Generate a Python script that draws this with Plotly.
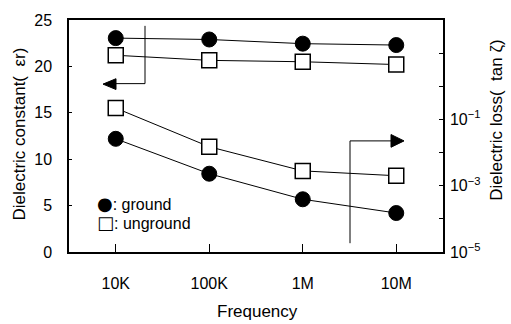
import plotly.graph_objects as go

freq = [1e4, 1e5, 1e6, 1e7]
freq_labels = ["10K", "100K", "1M", "10M"]
er_ground = [23.05, 22.9, 22.45, 22.3]
er_unground = [21.2, 20.65, 20.5, 20.2]
tan_ground = [0.026, 0.0023, 0.00039, 0.00015]
tan_unground = [0.22, 0.015, 0.0028, 0.002]
er_ticks = [0, 5, 10, 15, 20, 25]
tan_tickvals = [1e-5, 1e-3, 1e-1]
tan_ticktext = ["10<sup>−5</sup>", "10<sup>−3</sup>", "10<sup>−1</sup>"]
tan_minor = [1e-4, 1e-2, 1e0, 1e1]

FONT = "Liberation Sans, Arial, sans-serif"
W, H = 511, 324
L, R, T, B = 69, 68, 15, 72
pw, ph = W - L - R, H - T - B

def px(x):
    return (x - L) / pw

def py(y):
    return (H - B - y) / ph

line = dict(color="black", width=1)
circ = dict(symbol="circle", size=15, color="black", line=dict(color="black", width=1))
sq = dict(symbol="square", size=15, color="white", line=dict(color="black", width=1.5))

fig = go.Figure()
fig.add_trace(go.Scatter(x=freq, y=er_ground, mode="lines+markers", line=line, marker=circ, yaxis="y"))
fig.add_trace(go.Scatter(x=freq, y=er_unground, mode="lines+markers", line=line, marker=sq, yaxis="y"))
fig.add_trace(go.Scatter(x=freq, y=tan_ground, mode="lines+markers", line=line, marker=circ, yaxis="y2"))
fig.add_trace(go.Scatter(x=freq, y=tan_unground, mode="lines+markers", line=line, marker=sq, yaxis="y2"))

axcommon = dict(showgrid=False, zeroline=False, showline=True, linecolor="black", linewidth=1.5,
                ticks="inside", tickcolor="black", tickfont=dict(family=FONT, size=16, color="black"))

fig.update_layout(
    width=W, height=H, margin=dict(l=L, r=R, t=T, b=B, pad=0),
    paper_bgcolor="white", plot_bgcolor="white", showlegend=False,
    xaxis=dict(type="log", range=[3.5, 7.5], tickvals=freq, ticktext=freq_labels,
               mirror=True, ticklen=8, ticklabelstandoff=16, **axcommon),
    yaxis=dict(range=[0, 25], tickvals=er_ticks, ticklen=3, ticklabelstandoff=12, **axcommon),
    yaxis2=dict(type="log", range=[-5, 2], overlaying="y", side="right", tickvals=tan_tickvals,
                ticktext=tan_ticktext, ticklen=4, ticklabelstandoff=2,
                minor=dict(tickvals=tan_minor, ticks="inside", ticklen=4, tickcolor="black"),
                **axcommon),
)

tf = dict(family=FONT, size=17, color="black")
lf = dict(family=FONT, size=16, color="black")
fig.add_annotation(text="Dielectric constant(  εr)", xref="paper", yref="paper", x=px(20), y=py(132),
                   textangle=-90, showarrow=False, font=tf, xanchor="center", yanchor="middle")
fig.add_annotation(text="Dielectric loss(  tan ζ)", xref="paper", yref="paper", x=px(497), y=py(117),
                   textangle=-90, showarrow=False, font=tf, xanchor="center", yanchor="middle")
fig.add_annotation(text="Frequency", xref="paper", yref="paper", x=px(257), y=py(313),
                   showarrow=False, font=tf, xanchor="center", yanchor="middle")
fig.add_annotation(text="<span style='font-family:DejaVu Sans;font-size:18px'>●</span>: ground",
                   xref="paper", yref="paper", x=px(95), y=py(202),
                   showarrow=False, font=lf, xanchor="left", yanchor="middle")
fig.add_annotation(text="<span style='font-family:DejaVu Sans;font-size:18px'>□</span>: unground",
                   xref="paper", yref="paper", x=px(95), y=py(222),
                   showarrow=False, font=lf, xanchor="left", yanchor="middle")

# arrow indicators
sl = dict(color="black", width=1)
fig.add_shape(type="path", xref="paper", yref="paper",
              path=f"M {px(145)} {py(21)} L {px(145)} {py(80)} L {px(114)} {py(80)}", line=sl)
fig.add_shape(type="path", xref="paper", yref="paper",
              path=f"M {px(103)} {py(80.5)} L {px(116)} {py(75)} L {px(116)} {py(86)} Z",
              line=dict(color="black", width=1), fillcolor="black")
fig.add_shape(type="path", xref="paper", yref="paper",
              path=f"M {px(350)} {py(243)} L {px(350)} {py(138.5)} L {px(393)} {py(138.5)}", line=sl)
fig.add_shape(type="path", xref="paper", yref="paper",
              path=f"M {px(404)} {py(138.5)} L {px(391)} {py(132)} L {px(391)} {py(145)} Z",
              line=dict(color="black", width=1), fillcolor="black")

fig.write_html("out.html")
